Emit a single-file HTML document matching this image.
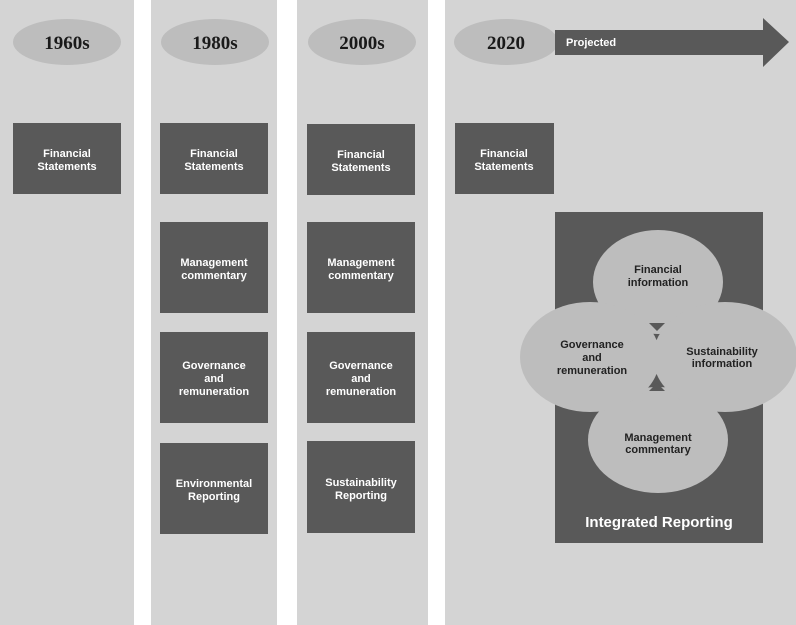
<!DOCTYPE html>
<html><head><style>
html,body{margin:0;padding:0;background:#fff;}
svg{display:block;}
text{font-family:"Liberation Sans",sans-serif;font-weight:bold;text-anchor:middle;}
.w{fill:#fff;font-size:11px;}
.d{fill:#222;font-size:11px;}
.h{fill:#1a1a1a;font-size:19px;font-family:"Liberation Serif",serif;}
</style></head><body>
<svg width="796" height="625" viewBox="0 0 796 625" xmlns="http://www.w3.org/2000/svg">
<rect x="0" y="0" width="796" height="625" fill="#fff"/>
<rect x="0" y="0" width="134" height="625" fill="#d4d4d4"/>
<rect x="151" y="0" width="126" height="625" fill="#d4d4d4"/>
<rect x="297" y="0" width="131" height="625" fill="#d4d4d4"/>
<rect x="445" y="0" width="351" height="625" fill="#d4d4d4"/>

<g fill="#bdbdbd">
<ellipse cx="67" cy="42" rx="54" ry="23"/>
<ellipse cx="215" cy="42" rx="54" ry="23"/>
<ellipse cx="362" cy="42" rx="54" ry="23"/>
<ellipse cx="506" cy="42" rx="52" ry="23"/>
</g>
<text class="h" x="67" y="49">1960s</text>
<text class="h" x="215" y="49">1980s</text>
<text class="h" x="362" y="49">2000s</text>
<text class="h" x="506" y="49">2020</text>

<polygon points="555,30 763,30 763,18 789,42 763,67 763,55 555,55" fill="#595959"/>
<text x="566" y="46" style="fill:#fff;font-size:11px;text-anchor:start">Projected</text>

<g fill="#595959">
<rect x="13" y="123" width="108" height="71"/>
<rect x="160" y="123" width="108" height="71"/>
<rect x="160" y="222" width="108" height="91"/>
<rect x="160" y="332" width="108" height="91"/>
<rect x="160" y="443" width="108" height="91"/>
<rect x="307" y="124" width="108" height="71"/>
<rect x="307" y="222" width="108" height="91"/>
<rect x="307" y="332" width="108" height="91"/>
<rect x="307" y="441" width="108" height="92"/>
<rect x="455" y="123" width="99" height="71"/>
<rect x="555" y="212" width="208" height="331"/>
</g>
<text class="w" x="67" y="157">Financial</text><text class="w" x="67" y="170">Statements</text>
<text class="w" x="214" y="157">Financial</text><text class="w" x="214" y="170">Statements</text>
<text class="w" x="214" y="266">Management</text><text class="w" x="214" y="279">commentary</text>
<text class="w" x="214" y="369">Governance</text><text class="w" x="214" y="382">and</text><text class="w" x="214" y="395">remuneration</text>
<text class="w" x="214" y="487">Environmental</text><text class="w" x="214" y="500">Reporting</text>
<text class="w" x="361" y="158">Financial</text><text class="w" x="361" y="171">Statements</text>
<text class="w" x="361" y="266">Management</text><text class="w" x="361" y="279">commentary</text>
<text class="w" x="361" y="369">Governance</text><text class="w" x="361" y="382">and</text><text class="w" x="361" y="395">remuneration</text>
<text class="w" x="361" y="486">Sustainability</text><text class="w" x="361" y="499">Reporting</text>
<text class="w" x="504" y="157">Financial</text><text class="w" x="504" y="170">Statements</text>

<g fill="#bdbdbd">
<ellipse cx="658" cy="282" rx="65" ry="52"/>
<ellipse cx="658" cy="440" rx="70" ry="53"/>
<ellipse cx="590" cy="357" rx="70" ry="55"/>
<ellipse cx="725" cy="357" rx="72" ry="55"/>
</g>
<polygon points="649,323 665,323 657,331" fill="#595959"/>
<polygon points="649,391 665,391 657,383" fill="#595959"/>
<text class="d" x="658" y="273">Financial</text><text class="d" x="658" y="286">information</text>
<text class="d" x="592" y="348">Governance</text><text class="d" x="592" y="361">and</text><text class="d" x="592" y="374">remuneration</text>
<text class="d" x="722" y="355">Sustainability</text><text class="d" x="722" y="367">information</text>
<text class="d" x="658" y="441">Management</text><text class="d" x="658" y="453">commentary</text>
<text x="659" y="527" style="fill:#fff;font-size:15px">Integrated Reporting</text>
</svg>
</body></html>
